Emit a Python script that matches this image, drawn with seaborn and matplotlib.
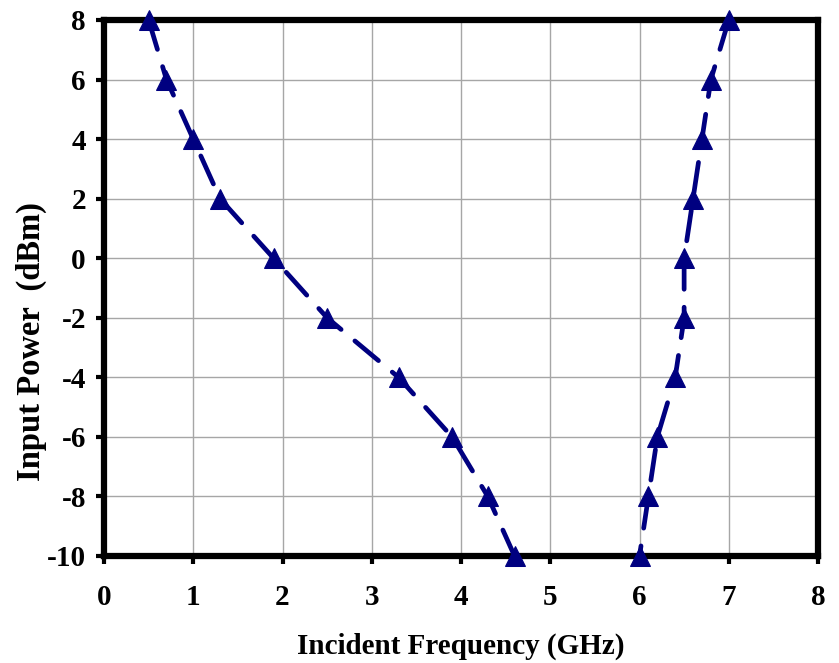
import matplotlib
matplotlib.use("Agg")
import matplotlib.pyplot as plt
import seaborn as sns
import pandas as pd

# Input power levels (dBm) and the lower / upper incident frequency bounds (GHz)
power_dbm = [8, 6, 4, 2, 0, -2, -4, -6, -8, -10]
freq_low = [0.5, 0.7, 1.0, 1.3, 1.9, 2.5, 3.3, 3.9, 4.3, 4.6]
freq_high = [7.0, 6.8, 6.7, 6.6, 6.5, 6.5, 6.4, 6.2, 6.1, 6.0]

x_ticks = list(range(0, 9))
y_ticks = list(range(-10, 9, 2))

sns.set_theme(style="white")
plt.rcParams["font.family"] = ["Liberation Serif", "DejaVu Serif"]
plt.rcParams["font.weight"] = "bold"
plt.rcParams["text.color"] = "black"
plt.rcParams["axes.labelcolor"] = "black"
plt.rcParams["xtick.color"] = "black"
plt.rcParams["ytick.color"] = "black"

fig = plt.figure(figsize=(8.39, 6.63), dpi=100)
ax = fig.add_axes([104 / 839, 1 - 556 / 663, (818 - 104) / 839, (556 - 20) / 663])

navy = "#000080"
low_df = pd.DataFrame({"freq": freq_low, "power": power_dbm})
high_df = pd.DataFrame({"freq": freq_high, "power": power_dbm})

for df in (low_df, high_df):
    sns.lineplot(data=df, x="freq", y="power", sort=False, estimator=None,
                 ax=ax, color=navy, linewidth=3.4, marker="^", markersize=15,
                 markeredgecolor=navy, markerfacecolor=navy,
                 dashes=False, clip_on=False, zorder=5)
for line in ax.lines:
    line.set_dashes((6.5, 3.8))
    line.set_dash_capstyle("round")

ax.set_xlim(0, 8)
ax.set_ylim(-10, 8)
ax.set_xticks(x_ticks)
ax.set_yticks(y_ticks)
ax.set_xticklabels([str(t) for t in x_ticks], fontsize=21, fontweight="bold")
ax.set_yticklabels([str(t) for t in y_ticks], fontsize=21, fontweight="bold")
ax.grid(True, color="#a6a6a6", linewidth=1.0)
ax.set_axisbelow(True)

for side in ax.spines.values():
    side.set_visible(True)
    side.set_color("black")
    side.set_linewidth(4.5)

ax.tick_params(axis="both", which="major", direction="out", length=6, width=3,
               color="black", bottom=True, left=True)
ax.tick_params(axis="x", pad=14)
ax.tick_params(axis="y", pad=7)

ax.set_xlabel("Incident Frequency (GHz)", fontsize=21, fontweight="bold")
ax.set_ylabel("Input Power  (dBm)", fontsize=23.5, fontweight="bold")
ax.xaxis.set_label_coords(0.5, -0.143)
ax.yaxis.set_label_coords(-0.080, 0.40)

fig.savefig("out.png", dpi=100)
